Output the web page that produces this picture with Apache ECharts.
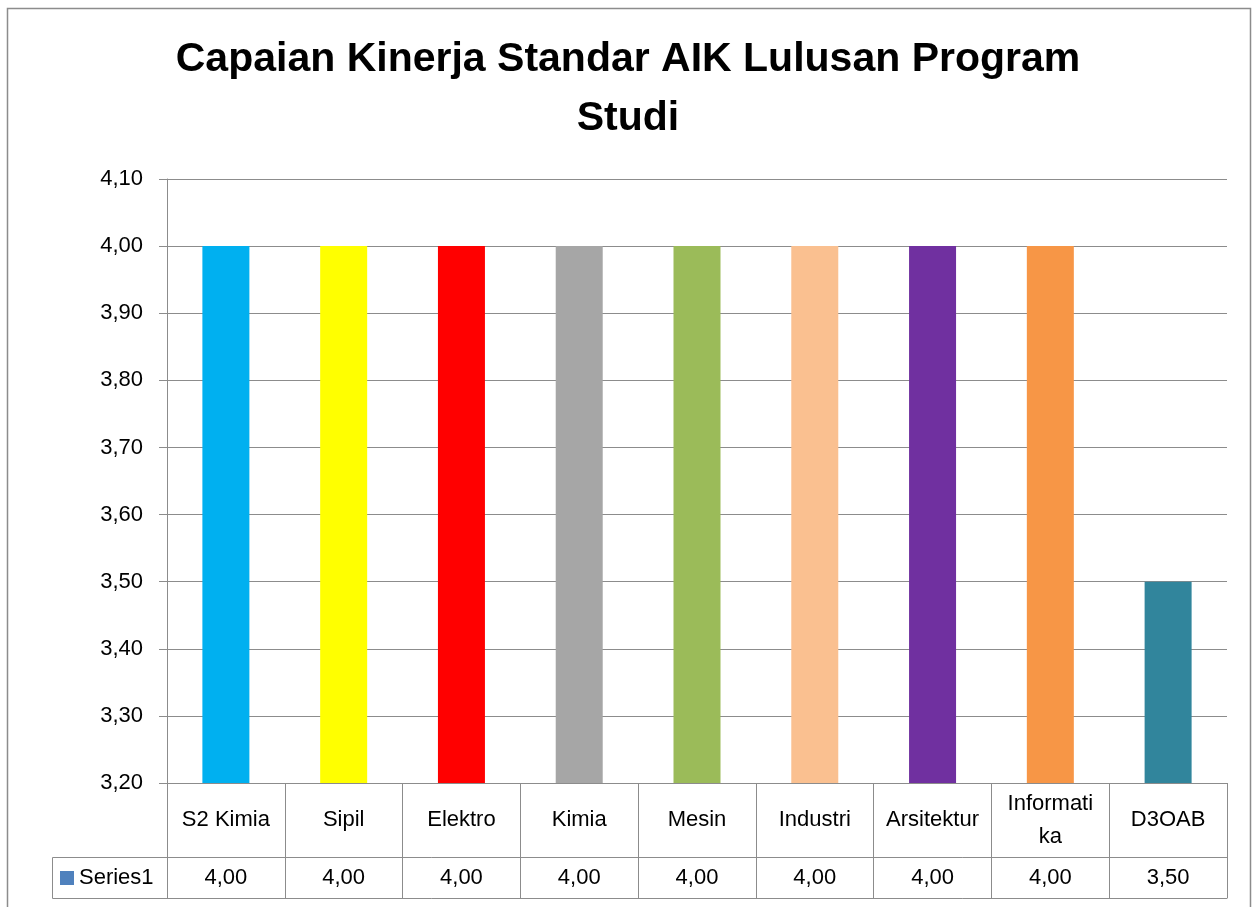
<!DOCTYPE html>
<html>
<head>
<meta charset="utf-8">
<title>Capaian Kinerja Standar AIK</title>
<script src="https://cdn.jsdelivr.net/npm/echarts@6/dist/echarts.min.js"></script>
<style>
  html, body { margin: 0; padding: 0; background: #fff; }
  #chart { width: 1256px; height: 907px; }
</style>
</head>
<body>
<div id="chart"></div>
<script>
// data
var categories = ['S2 Kimia', 'Sipil', 'Elektro', 'Kimia', 'Mesin', 'Industri', 'Arsitektur', 'Informatika', 'D3OAB'];
var values = [4.00, 4.00, 4.00, 4.00, 4.00, 4.00, 4.00, 4.00, 3.50];
var barColors = ['#00b0f0', '#ffff00', '#ff0000', '#a6a6a6', '#9bbb59', '#fac090', '#7030a0', '#f79646', '#31859c'];
var yTicks = [3.2, 3.3, 3.4, 3.5, 3.6, 3.7, 3.8, 3.9, 4.0, 4.1];

var font = '"Liberation Sans", Arial, sans-serif';
var lineCol = '#8c8c8c';

function fmt(v) {
    return v.toFixed(2).replace('.', ',');
}

var option = {
    animation: false,
    title: {
        text: 'Capaian Kinerja Standar AIK Lulusan Program\nStudi',
        left: 'center',
        top: 30,
        padding: 0,
        textStyle: {
            fontFamily: font,
            fontSize: 41,
            fontWeight: 'bold',
            color: '#000',
            lineHeight: 59
        }
    },
    legend: {
        data: ['Series1'],
        left: 60,
        top: 867,
        padding: 0,
        icon: 'rect',
        itemWidth: 14,
        itemHeight: 14,
        itemGap: 6,
        textStyle: { fontFamily: font, fontSize: 22, color: '#000' }
    },
    grid: {
        left: 167,
        right: 29,
        top: 179,
        bottom: 124
    },
    xAxis: [{
        // category row of the data table
        type: 'category',
        data: categories,
        position: 'bottom',
        axisLine: { lineStyle: { color: lineCol } },
        axisTick: { show: true, interval: 0, alignWithLabel: false, length: 74, lineStyle: { color: lineCol } },
        axisLabel: {
            interval: 0,
            margin: 37,
            verticalAlign: 'middle',
            lineHeight: 33,
            fontFamily: font,
            fontSize: 22,
            color: '#000',
            formatter: function(v) {
                return v.length > 10 ? v.slice(0, 9) + '\n' + v.slice(9) : v;
            }
        }
    }, {
        // value row of the data table
        type: 'category',
        data: categories,
        position: 'bottom',
        offset: 74,
        axisLine: { lineStyle: { color: lineCol } },
        axisTick: { show: true, interval: 0, alignWithLabel: false, length: 41, lineStyle: { color: lineCol } },
        axisLabel: {
            interval: 0,
            margin: 21,
            verticalAlign: 'middle',
            fontFamily: font,
            fontSize: 22,
            color: '#000',
            formatter: function(v, i) {
                return fmt(values[i]);
            }
        }
    }, {
        type: 'category',
        data: categories,
        position: 'bottom',
        offset: 115,
        axisLine: { lineStyle: { color: lineCol } },
        axisTick: { show: false },
        axisLabel: { show: false }
    }],
    yAxis: {
        type: 'value',
        min: yTicks[0],
        max: yTicks[yTicks.length - 1],
        interval: 0.1,
        axisLine: { show: true, lineStyle: { color: lineCol } },
        axisTick: { show: true, length: 8, lineStyle: { color: lineCol } },
        axisLabel: {
            margin: 24,
            fontFamily: font,
            fontSize: 22,
            color: '#000',
            formatter: function(v) { return fmt(v); }
        },
        splitLine: { lineStyle: { color: lineCol, width: 1 } }
    },
    graphic: [{
        type: 'rect',
        shape: { x: 7.5, y: 8.5, width: 1243, height: 920 },
        style: { fill: 'none', stroke: lineCol, lineWidth: 1.5 },
        silent: true
    }, {
        // legend cell of the data table
        type: 'rect',
        shape: { x: 52.5, y: 857.5, width: 115, height: 41 },
        style: { fill: 'none', stroke: lineCol, lineWidth: 1 },
        silent: true
    }],
    series: [{
        name: 'Series1',
        type: 'bar',
        barWidth: 47,
        itemStyle: { color: '#4f81bd' },
        data: values.map(function(v, i) {
            return { value: v, itemStyle: { color: barColors[i] } };
        })
    }]
};

var myChart = echarts.init(document.getElementById('chart'));
myChart.setOption(option);
</script>
</body>
</html>
